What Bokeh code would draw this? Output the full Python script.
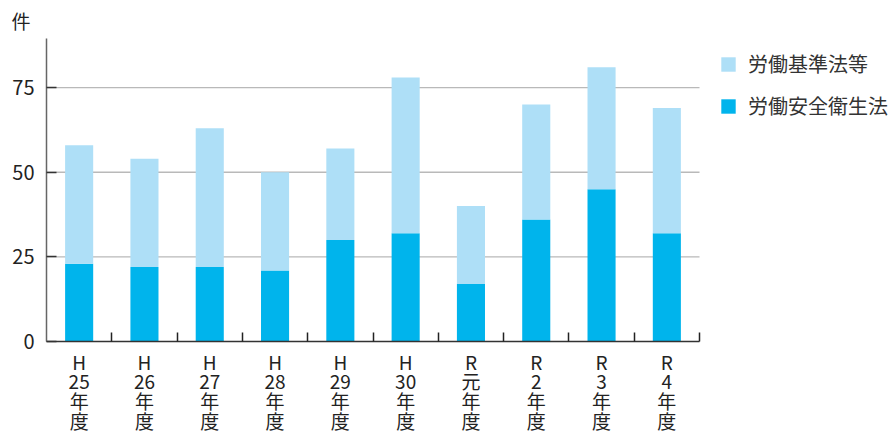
from bokeh.plotting import figure
from bokeh.models import (Range1d, FixedTicker, Legend, LegendItem, Title,
                          ColumnDataSource)
from bokeh.embed import file_html
from bokeh.resources import INLINE

# ---- data ----
year_labels = ["H\n25\n年\n度", "H\n26\n年\n度", "H\n27\n年\n度", "H\n28\n年\n度",
               "H\n29\n年\n度", "H\n30\n年\n度", "R\n元\n年\n度", "R\n2\n年\n度",
               "R\n3\n年\n度", "R\n4\n年\n度"]
anzen_eisei = [23, 22, 22, 21, 30, 32, 17, 36, 45, 32]   # 労働安全衛生法
kijun_tou = [35, 32, 41, 29, 27, 46, 23, 34, 36, 37]     # 労働基準法等
series_names = ["労働安全衛生法", "労働基準法等"]
y_ticks = [0, 25, 50, 75]
unit_label = "件"

DARK = "#00b4ec"
LIGHT = "#aedff7"
FONT = "Noto Sans CJK JP"
TXT = "#222222"

W, H = 894, 437
LEFT, TOP, BOTTOM = 46, 38, 96
PX_PER_CAT = 65.3          # horizontal pixels per category (layout)

n = len(year_labels)
xs = list(range(1, n + 1))
x_lo, x_hi = 0.5, n + 0.5
src = ColumnDataSource(dict(x=xs, anzen=anzen_eisei, kijun=kijun_tou))

frame_w = W - LEFT
p = figure(width=W, height=H,
           x_range=Range1d(x_lo, x_lo + frame_w / PX_PER_CAT),
           y_range=Range1d(0, 89.5), output_backend="svg", toolbar_location=None,
           min_border_left=LEFT, min_border_right=0, min_border_top=TOP,
           min_border_bottom=BOTTOM)
p.outline_line_color = None
p.xgrid.visible = False
p.ygrid.visible = False

# horizontal grid lines, limited to the category span
gy = y_ticks[1:]
p.segment(x0=[x_lo] * len(gy), x1=[x_hi] * len(gy), y0=gy, y1=gy,
          line_color="#b9b9b9", line_width=1.3, level="underlay")

r = p.vbar_stack(["anzen", "kijun"], x="x", width=0.43, source=src,
                 color=[DARK, LIGHT], line_alpha=0)

# x axis
xa = p.xaxis[0]
xa.bounds = (x_lo, x_hi)
xa.ticker = FixedTicker(ticks=xs, minor_ticks=[i + 0.5 for i in range(1, n + 1)])
xa.major_label_overrides = {x: lab for x, lab in zip(xs, year_labels)}
xa.major_tick_in = 0
xa.major_tick_out = 0
xa.minor_tick_in = 9
xa.minor_tick_out = 0
xa.minor_tick_line_color = "#222222"
xa.minor_tick_line_width = 1.5
xa.axis_line_color = "#333333"
xa.axis_line_width = 1.5
xa.major_label_text_font = FONT
xa.major_label_text_font_size = "19px"
xa.major_label_text_color = TXT
xa.major_label_text_line_height = 0.74
xa.major_label_standoff = 6

# y axis
ya = p.yaxis[0]
ya.ticker = FixedTicker(ticks=y_ticks, minor_ticks=[])
ya.major_tick_in = 10
ya.major_tick_out = 0
ya.major_tick_line_color = "#333333"
ya.major_tick_line_width = 1.5
ya.axis_line_color = "#666666"
ya.axis_line_width = 1.5
ya.major_label_text_font = FONT
ya.major_label_text_font_size = "20px"
ya.major_label_text_color = TXT
ya.major_label_standoff = 12

p.add_layout(Title(text=unit_label, align="left", offset=-35, standoff=9,
                   text_font=FONT, text_font_size="19px", text_color=TXT,
                   text_font_style="normal"), "above")

legend = Legend(items=[LegendItem(label=series_names[1], renderers=[r[1]]),
                       LegendItem(label=series_names[0], renderers=[r[0]])],
                location=(673, 221), orientation="vertical",
                glyph_width=18, glyph_height=18, label_height=22, spacing=13,
                padding=0, margin=0, label_standoff=11,
                label_text_font=FONT, label_text_font_size="20px",
                label_text_color="#333333", border_line_color=None,
                background_fill_alpha=0)
p.add_layout(legend, "center")

open("out.html", "w").write(file_html(p, INLINE))
